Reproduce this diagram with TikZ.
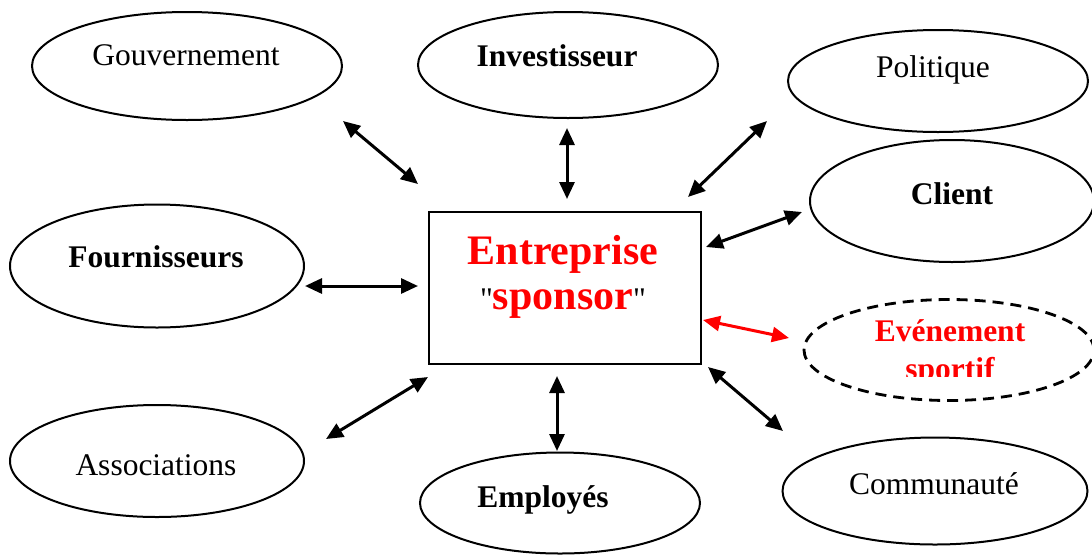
\documentclass[tikz,border=0pt]{standalone}
\usepackage{fontspec}
\setmainfont{Liberation Serif}
\usetikzlibrary{shapes.geometric,arrows.meta}
\definecolor{redx}{RGB}{255,0,0}
\newcommand{\straightquote}{\XeTeXglyph\the\XeTeXglyphindex "quotedbl" \relax}
\tikzset{
  ell/.style={draw, ellipse, line width=2pt, inner sep=0pt},
  txt/.style={inner sep=0pt, anchor=base, font=\fontsize{31.5}{36}\selectfont},
  btxt/.style={inner sep=0pt, anchor=base, font=\fontsize{31.5}{36}\selectfont\bfseries},
  conn/.style={line width=3pt, {Triangle[length=17pt,width=15pt]}-{Triangle[length=17pt,width=15pt]}},
}
\begin{document}
\begin{tikzpicture}[x=1pt,y=-1pt]
\useasboundingbox (0,0) rectangle (1092,555);
% ellipses
\node[ell, minimum width=310pt, minimum height=108pt] (gov) at (187,66) {};
\node[txt] (govt) at (186,65) {Gouvernement};
\node[ell, minimum width=300pt, minimum height=106pt] (inv) at (568,65) {};
\node[btxt] (invt) at (557,66) {Investisseur};
\node[ell, minimum width=300pt, minimum height=102pt] (pol) at (938,81) {};
\node[txt] (polt) at (933,77) {Politique};
\node[ell, minimum width=284pt, minimum height=122pt] (cli) at (952,201) {};
\node[btxt] (clit) at (952,204) {Client};
\node[ell, minimum width=294pt, minimum height=123pt] (fou) at (157,266) {};
\node[btxt] (fout) at (156,267) {Fournisseurs};
\node[ell, line width=2.8pt, dashed, dash pattern=on 11pt off 7pt, minimum width=290pt, minimum height=101pt] (evt) at (949,350) {};
\node[btxt, text=redx] (evt1) at (950,341) {Evénement};
\begin{scope}
\clip (850,352) rectangle (1050,376);
\node[btxt, text=redx] (evt2) at (950,379) {sportif};
\end{scope}
\node[ell, minimum width=294pt, minimum height=112pt] (ass) at (157,461) {};
\node[txt] (asst) at (156,475) {Associations};
\node[ell, minimum width=280pt, minimum height=101pt] (emp) at (560,503) {};
\node[btxt] (empt) at (543,507) {Employés};
\node[ell, minimum width=305pt, minimum height=107pt] (com) at (935,491) {};
\node[txt] (comt) at (934,494) {Communauté};
% center box
\node[draw, line width=2pt, minimum width=272pt, minimum height=152pt, inner sep=0pt] (ent) at (565,288) {};
\node[inner sep=0pt, anchor=base, text=redx, font=\fontsize{42}{46}\selectfont\bfseries] (entt) at (563,264) {Entreprise};
\node[inner sep=0pt, anchor=base, font=\fontsize{42}{46}\selectfont] (spon) at (563,309) {{\fontsize{31.5}{36}\selectfont\straightquote}\textcolor{redx}{\textbf{sponsor}}{\fontsize{31.5}{36}\selectfont\straightquote}};
% arrow endpoints
\coordinate (g1) at (343,121); \coordinate (g2) at (418,184);
\coordinate (i1) at (567,128); \coordinate (i2) at (567,199);
\coordinate (p1) at (767,121); \coordinate (p2) at (688,197);
\coordinate (c1) at (802,212); \coordinate (c2) at (706,247);
\coordinate (f1) at (305,286); \coordinate (f2) at (418,286);
\coordinate (e1) at (703,320); \coordinate (e2) at (789,338);
\coordinate (a1) at (326,439); \coordinate (a2) at (428,377);
\coordinate (m1) at (557,376); \coordinate (m2) at (557,451);
\coordinate (o1) at (708,367); \coordinate (o2) at (783,431);
\draw[conn] (g1) -- (g2);
\draw[conn] (i1) -- (i2);
\draw[conn] (p1) -- (p2);
\draw[conn] (c1) -- (c2);
\draw[conn] (f1) -- (f2);
\draw[conn, draw=redx, fill=redx] (e1) -- (e2);
\draw[conn] (a1) -- (a2);
\draw[conn] (m1) -- (m2);
\draw[conn] (o1) -- (o2);
\end{tikzpicture}
\end{document}
